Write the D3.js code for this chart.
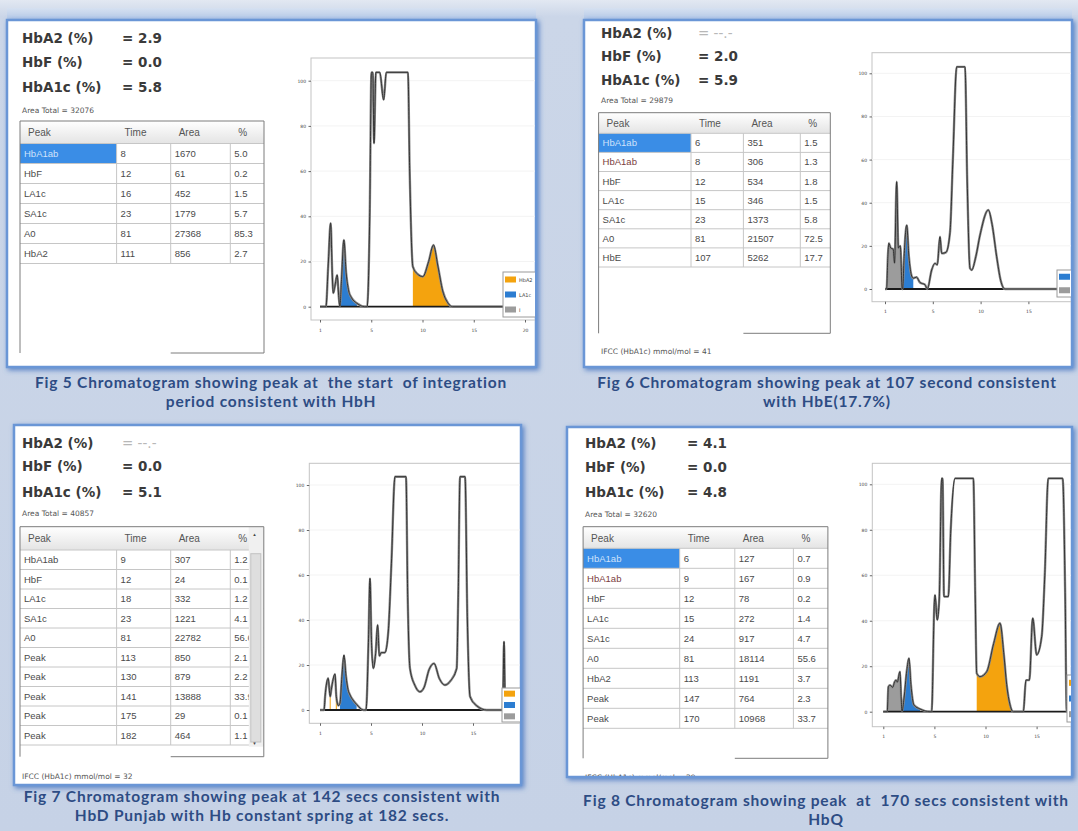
<!DOCTYPE html>
<html lang="en">
<head>
<meta charset="UTF-8">
<title>HPLC chromatograms</title>
<style>
  body { margin: 0; background: #c9d5e8; }
  svg { display: block; }
  .sum { font-family: "DejaVu Sans", sans-serif; font-weight: bold; font-size: 13.5px; fill: #3a3a3a; }
  .none { fill: #b8b8b8; font-weight: normal; }
  .th { font-family: "Liberation Sans", Arial, sans-serif; font-size: 10px; fill: #555; }
  .td { font-family: "Liberation Sans", Arial, sans-serif; font-size: 9.5px; fill: #4a4a4a; }
  .small { font-family: "DejaVu Sans", sans-serif; font-size: 7.5px; fill: #555; }
  .cap { font-family: Lato, "Open Sans", sans-serif; font-weight: bold; font-size: 15.5px; letter-spacing: 0.8px; fill: #2d4c84; white-space: pre; }
  .tick text { font-family: "DejaVu Sans", sans-serif; font-size: 4.5px; fill: #444; }
  .tick line { stroke: #666; }
  .lg { font-family: "DejaVu Sans", sans-serif; font-size: 5px; fill: #444; }
</style>
</head>
<body>
<script src="https://d3js.org/d3.v7.min.js"></script>
<svg id="fig"></svg>
<script>
// shared labels
var summaryLabels = ["HbA2 (%)", "HbF (%)", "HbA1c (%)"];
var tableHeader = ["Peak", "Time", "Area", "%"];
var xTickValues = [0, 5, 10, 15, 20];
var xTickLabels = ["1", "5", "10", "15", "20"];
var yTickValues = [0, 20, 40, 60, 80, 100];
var legendNames = {HbA2: "HbA2", LA1c: "LA1c", other: "I"};

// Fig 5
var fig5Summary = ["2.9", "0.0", "5.8"];
var fig5AreaTotal = "32076";
var fig5Peak = ["HbA1ab", "HbF", "LA1c", "SA1c", "A0", "HbA2"];
var fig5Time = ["8", "12", "16", "23", "81", "111"];
var fig5Area = ["1670", "61", "452", "1779", "27368", "856"];
var fig5Pct = ["5.0", "0.2", "1.5", "5.7", "85.3", "2.7"];
var fig5Trace = [[0,0],[0.58,0],[0.8,18],[1.04,37],[1.2,14],[1.29,6],[1.45,9],[1.68,14],[1.82,5],[1.94,0],
  [2.1,12],[2.33,29.5],[2.55,15],[2.8,7],[3.07,4],[3.6,1.5],[4.37,0],[4.6,0],[4.85,40],[5.02,103.7],
  [5.15,103.7],[5.27,72.3],[5.45,103.7],[5.83,103.7],[6.21,91.5],[6.47,103.7],[8.58,103.7],[8.75,60],
  [9.06,17.7],[9.5,14.5],[10.03,13.3],[10.6,20],[11.07,27.3],[11.5,18],[11.97,7],[12.5,1.5],[12.94,0],[22,0]];
var fig5Fills = [["LA1c", 1.94, 3.6], ["HbA2", 9.06, 12.94]];
var fig5Legend = ["HbA2", "LA1c", "other"];
var fig5Caption = ["Fig 5 Chromatogram showing peak at  the start  of integration", "period consistent with HbH"];

// Fig 6
var fig6Summary = [null, "2.0", "5.9"];
var fig6AreaTotal = "29879";
var fig6Peak = ["HbA1ab", "HbA1ab", "HbF", "LA1c", "SA1c", "A0", "HbE"];
var fig6Time = ["6", "8", "12", "15", "23", "81", "107"];
var fig6Area = ["351", "306", "534", "346", "1373", "21507", "5262"];
var fig6Pct = ["1.5", "1.3", "1.8", "1.5", "5.8", "72.5", "17.7"];
var fig6Ifcc = "41";
var fig6Trace = [[0,0],[0.17,0],[0.3,15],[0.4,21.2],[0.6,19],[0.85,18.5],[1.0,12],[1.22,49.7],[1.4,19],[1.6,20],
  [1.8,0],[1.85,0],[2.0,15],[2.27,29.6],[2.5,15],[2.79,6],[2.96,5],[3.3,5.5],[3.66,3],[4.18,2],[4.43,0],
  [4.88,8.8],[5.23,11.9],[5.47,11.2],[5.75,24.2],[5.93,16.5],[6.38,17],[6.8,26.2],[7.1,60],[7.5,103],
  [8.37,103],[8.6,50],[8.89,9.6],[9.07,8.8],[9.5,15],[9.94,25],[10.81,36.6],[11.2,30],[11.68,15],[12.1,4],
  [12.55,0],[21,0]];
var fig6Fills = [["other", 0.17, 1.8], ["LA1c", 1.85, 2.96]];
var fig6Legend = ["LA1c", "other"];
var fig6Caption = ["Fig 6 Chromatogram showing peak at 107 second consistent", "with HbE(17.7%)"];

// Fig 7
var fig7Summary = [null, "0.0", "5.1"];
var fig7AreaTotal = "40857";
var fig7Peak = ["HbA1ab", "HbF", "LA1c", "SA1c", "A0", "Peak", "Peak", "Peak", "Peak", "Peak"];
var fig7Time = ["9", "12", "18", "23", "81", "113", "130", "141", "175", "182"];
var fig7Area = ["307", "24", "332", "1221", "22782", "850", "879", "13888", "29", "464"];
var fig7Pct = ["1.2", "0.1", "1.2", "4.1", "56.6", "2.1", "2.2", "33.9", "0.1", "1.1"];
var fig7Ifcc = "32";
var fig7Trace = [[0,0],[0.4,0],[0.5,6],[0.8,14.1],[1.0,6],[1.1,8.9],[1.47,16],[1.6,6],[1.8,2],[1.96,3],
  [2.15,15],[2.35,24.4],[2.55,15],[2.75,9],[2.94,6.7],[3.3,4],[3.59,2.5],[4.25,0],[4.51,0],[4.75,30],
  [4.9,58.5],[5.05,30],[5.23,18.5],[5.45,25],[5.65,37.8],[5.82,24],[6.0,25.5],[6.37,25.5],[6.7,35.1],
  [7.0,65],[7.35,103.7],[8.43,103.7],[8.6,50],[8.82,18.5],[9.3,11],[9.8,8.1],[10.2,10],[10.7,18],
  [11.18,20.7],[11.7,14],[12.25,11.1],[12.8,13],[13.4,18.5],[13.55,50],[13.73,103.7],[14.22,103.7],
  [14.45,40],[14.71,6],[15.36,1.9],[16.34,0],[17.91,0],[18.04,30.4],[18.17,0],[21,0]];
var fig7Fills = [["LA1c", 1.96, 3.59]];
var fig7Marks = [[1.0, 6], [1.6, 6]];
var fig7Legend = ["HbA2", "LA1c", "other"];
var fig7Caption = ["Fig 7 Chromatogram showing peak at 142 secs consistent with", "HbD Punjab with Hb constant spring at 182 secs."];

// Fig 8
var fig8Summary = ["4.1", "0.0", "4.8"];
var fig8AreaTotal = "32620";
var fig8Peak = ["HbA1ab", "HbA1ab", "HbF", "LA1c", "SA1c", "A0", "HbA2", "Peak", "Peak"];
var fig8Time = ["6", "9", "12", "15", "24", "81", "113", "147", "170"];
var fig8Area = ["127", "167", "78", "272", "917", "18114", "1191", "764", "10968"];
var fig8Pct = ["0.7", "0.9", "0.2", "1.4", "4.7", "55.6", "3.7", "2.3", "33.7"];
var fig8Ifcc = "29";
var fig8Trace = [[0,0],[0.39,0],[0.5,11],[0.66,11.7],[0.92,10.7],[1.1,13],[1.24,13.9],[1.37,13],[1.63,17.6],
  [1.75,6],[1.83,0],[2.03,6],[2.3,18],[2.51,23.5],[2.7,12],[3.0,2.9],[3.59,1.2],[4.57,0],[4.73,0],[5.0,48],
  [5.06,51.3],[5.28,40.3],[5.48,50],[5.71,102.6],[5.8,102.6],[5.94,50.6],[6.36,50.6],[6.6,80],[7.02,102.6],
  [8.81,102.6],[9.0,50],[9.14,16.9],[9.46,15.4],[10.12,17.6],[10.8,30],[11.42,38.9],[11.8,25],[12.07,12],
  [12.4,3],[12.72,0],[13.7,0],[13.96,13.9],[14.29,13.9],[14.62,41.1],[15.01,25],[15.5,33.1],[15.8,60],
  [16.14,102.6],[17.55,102.6],[17.8,50],[17.94,0],[21,0]];
var fig8Fills = [["other", 0.39, 1.83], ["LA1c", 1.83, 3.59], ["HbA2", 9.14, 12.72]];
var fig8Legend = ["HbA2", "LA1c", "other"];
var fig8Caption = ["Fig 8 Chromatogram showing peak  at  170 secs consistent with", "HbQ"];

var datasets = [
  {summary: fig5Summary, total: fig5AreaTotal, cells: [fig5Peak, fig5Time, fig5Area, fig5Pct], ifcc: null,
   trace: fig5Trace, fills: fig5Fills, marks: [], legend: fig5Legend, caption: fig5Caption},
  {summary: fig6Summary, total: fig6AreaTotal, cells: [fig6Peak, fig6Time, fig6Area, fig6Pct], ifcc: fig6Ifcc,
   trace: fig6Trace, fills: fig6Fills, marks: [], legend: fig6Legend, caption: fig6Caption},
  {summary: fig7Summary, total: fig7AreaTotal, cells: [fig7Peak, fig7Time, fig7Area, fig7Pct], ifcc: fig7Ifcc,
   trace: fig7Trace, fills: fig7Fills, marks: fig7Marks, legend: fig7Legend, caption: fig7Caption},
  {summary: fig8Summary, total: fig8AreaTotal, cells: [fig8Peak, fig8Time, fig8Area, fig8Pct], ifcc: fig8Ifcc,
   trace: fig8Trace, fills: fig8Fills, marks: [], legend: fig8Legend, caption: fig8Caption}
];

// layout of the four screenshots
var layout = [
  {box: [7, 20, 536, 367], band: true, labelX: 22, valueX: 122, sumY: [43, 67, 92], totalY: 113,
   table: {cols: [20, 116.6, 170.7, 230.3, 264], y: 121, headH: 22.5, rowH: 20, bottom: 353, highlight: true, scroll: false},
   ifccY: null,
   chart: {frame: [311, 58, 560, 320], tx: [320, 525], vy: [306.7, 80.7], legend: [503, 272, 40, 45]},
   capX: 271, capY: [388, 407]},
  {box: [584, 20, 1072, 367], band: true, labelX: 601, valueX: 698, sumY: [38, 61, 85], totalY: 103,
   table: {cols: [598.6, 691, 743.4, 800.3, 830.3], y: 112.7, headH: 20.6, rowH: 19.1, bottom: 333.3, highlight: true, scroll: false},
   ifccY: 354,
   chart: {frame: [872, 52.7, 1100, 301.7], tx: [885, 1076.2], vy: [289, 73.3], legend: [1057, 270, 30, 27]},
   capX: 827, capY: [388, 407]},
  {box: [14, 425, 521, 785], band: false, labelX: 22, valueX: 122, sumY: [448, 471, 497], totalY: 516,
   table: {cols: [20, 116.6, 170.7, 230.3, 263.8], y: 526.7, headH: 23.3, rowH: 19.5, bottom: 756.7, highlight: false, scroll: true},
   ifccY: 779,
   chart: {frame: [309.3, 463.3, 560, 723.3], tx: [320, 524], vy: [710, 485], legend: [502, 688, 30, 34]},
   capX: 262, capY: [802, 821]},
  {box: [567, 427, 1072, 777], band: false, labelX: 585, valueX: 687, sumY: [448, 472, 497], totalY: 517,
   table: {cols: [583.1, 679.7, 734.8, 793.4, 827.9], y: 526.7, headH: 21.6, rowH: 20, bottom: 758.3, highlight: true, scroll: false},
   ifccY: 780,
   chart: {frame: [872.3, 463.3, 1100, 726.7], tx: [883.3, 1087.7], vy: [711.7, 484.3], legend: [1067, 675, 30, 47]},
   capX: 826, capY: [806, 825]}
];

var colorOf = d3.scaleOrdinal().domain(["HbA2", "LA1c", "other"]).range(["#f4a30e", "#2c7dd1", "#9c9c9c"]);

var W = 1078, H = 831;
var svg = d3.select("#fig").attr("width", W).attr("height", H);
var defs = svg.append("defs");

var bg = defs.append("linearGradient").attr("id", "bg").attr("x1", 0).attr("y1", 0).attr("x2", 0).attr("y2", 1);
bg.append("stop").attr("offset", "0%").attr("stop-color", "#e2e8f2");
bg.append("stop").attr("offset", "2%").attr("stop-color", "#cbd6e8");
bg.append("stop").attr("offset", "100%").attr("stop-color", "#c6d2e6");
svg.append("rect").attr("width", W).attr("height", H).attr("fill", "url(#bg)");

var band = defs.append("linearGradient").attr("id", "band").attr("x1", 0).attr("y1", 0).attr("x2", 0).attr("y2", 1);
band.append("stop").attr("offset", "0%").attr("stop-color", "#d6e1f1");
band.append("stop").attr("offset", "100%").attr("stop-color", "#b3c7e6");

var head = defs.append("linearGradient").attr("id", "head").attr("x1", 0).attr("y1", 0).attr("x2", 0).attr("y2", 1);
head.append("stop").attr("offset", "0%").attr("stop-color", "#ffffff");
head.append("stop").attr("offset", "100%").attr("stop-color", "#e4e4e4");

var glow = defs.append("filter").attr("id", "glow").attr("x", "-5%").attr("y", "-5%").attr("width", "110%").attr("height", "112%");
glow.append("feDropShadow").attr("dx", 2).attr("dy", 2).attr("stdDeviation", 2.5)
    .attr("flood-color", "#3f6fbf").attr("flood-opacity", 0.8);

datasets.forEach(function(d, i) {
    var L = layout[i], b = L.box;

    if (L.band) {
        svg.append("rect").attr("x", b[0]).attr("y", b[1] - 12).attr("width", b[2] - b[0]).attr("height", 12)
            .attr("fill", "url(#band)");
    }
    svg.append("rect").attr("x", b[0]).attr("y", b[1]).attr("width", b[2] - b[0]).attr("height", b[3] - b[1])
        .attr("fill", "#fff").attr("stroke", "#6a96d6").attr("stroke-width", 2.5).attr("filter", "url(#glow)");

    defs.append("clipPath").attr("id", "clip" + i).append("rect")
        .attr("x", b[0] + 1).attr("y", b[1] + 1).attr("width", b[2] - b[0] - 2).attr("height", b[3] - b[1] - 2);
    var g = svg.append("g").attr("clip-path", "url(#clip" + i + ")");

    // summary values
    summaryLabels.forEach(function(lab, k) {
        g.append("text").attr("class", "sum").attr("x", L.labelX).attr("y", L.sumY[k]).text(lab);
        var v = d.summary[k];
        g.append("text").attr("class", v ? "sum" : "sum none").attr("x", L.valueX).attr("y", L.sumY[k])
            .text(v ? "= " + v : "= --.-");
    });
    g.append("text").attr("class", "small").attr("x", L.labelX).attr("y", L.totalY).text("Area Total = " + d.total);

    // peak table
    var T = L.table, c = T.cols, x0 = c[0], x1 = c[c.length - 1];
    var n = d.cells[0].length;
    var rowsBottom = T.y + T.headH + n * T.rowH;
    g.append("rect").attr("x", x0).attr("y", T.y).attr("width", x1 - x0).attr("height", T.headH).attr("fill", "url(#head)");
    tableHeader.forEach(function(h, k) {
        g.append("text").attr("class", "th").attr("x", c[k] + 8).attr("y", T.y + T.headH / 2 + 4).text(h);
    });
    if (T.highlight) {
        g.append("rect").attr("x", x0).attr("y", T.y + T.headH).attr("width", c[1] - x0).attr("height", T.rowH)
            .attr("fill", "#3a8de6");
    }
    for (var r = 0; r < n; r++) {
        var ry = T.y + T.headH + r * T.rowH;
        for (var k = 0; k < 4; k++) {
            var t = g.append("text").attr("class", "td").attr("x", c[k] + 4).attr("y", ry + T.rowH / 2 + 3.5)
                .text(d.cells[k][r]);
            if (k === 0 && r === 0 && T.highlight) t.style("fill", "#cfe2fb");
            if (k === 0 && r === 1 && T.highlight && d.cells[0][1] === d.cells[0][0]) t.style("fill", "#7b4040");
        }
        g.append("line").attr("x1", x0).attr("x2", x1).attr("y1", ry + T.rowH).attr("y2", ry + T.rowH)
            .attr("stroke", "#c6c6c6");
    }
    g.append("line").attr("x1", x0).attr("x2", x1).attr("y1", T.y + T.headH).attr("y2", T.y + T.headH).attr("stroke", "#c6c6c6");
    c.slice(1, -1).forEach(function(cx) {
        g.append("line").attr("x1", cx).attr("x2", cx).attr("y1", T.y + T.headH).attr("y2", rowsBottom).attr("stroke", "#c6c6c6");
    });
    if (T.scroll) {
        var sx = x1 - 15;
        g.append("rect").attr("x", sx).attr("y", T.y).attr("width", 15).attr("height", T.bottom - T.y - 10).attr("fill", "#f0f0f0");
        g.append("rect").attr("x", sx + 2).attr("y", T.y + 27).attr("width", 10).attr("height", rowsBottom - T.y - 30)
            .attr("fill", "#dedede").attr("stroke", "#c2c2c2");
        g.append("text").attr("class", "lg").attr("x", sx + 4.5).attr("y", T.y + 9).text("\u25B4");
        g.append("text").attr("class", "lg").attr("x", sx + 4.5).attr("y", T.bottom - 12).text("\u25BE");
    }
    var tb = d3.path();
    tb.moveTo(x0, T.bottom); tb.lineTo(x0, T.y); tb.lineTo(x1, T.y); tb.lineTo(x1, T.bottom); tb.lineTo(c[2], T.bottom);
    g.append("path").attr("d", tb.toString()).attr("fill", "none").attr("stroke", "#7c7c7c");

    if (d.ifcc) {
        g.append("text").attr("class", "small").attr("x", L.labelX).attr("y", L.ifccY).text("IFCC (HbA1c) mmol/mol = " + d.ifcc);
    }

    // chromatogram
    var C = L.chart, f = C.frame;
    var x = d3.scaleLinear().domain([0, 20]).range(C.tx);
    var y = d3.scaleLinear().domain([0, 100]).range(C.vy);

    g.append("rect").attr("x", f[0]).attr("y", f[1]).attr("width", f[2] - f[0]).attr("height", f[3] - f[1])
        .attr("fill", "none").attr("stroke", "#c4c4c4");
    g.append("g").selectAll("line").data(yTickValues.slice(1)).enter().append("line")
        .attr("x1", f[0]).attr("x2", f[2]).attr("y1", y).attr("y2", y).attr("stroke", "#f3f3f3");

    var ya = g.append("g").attr("transform", "translate(" + f[0] + ",0)")
        .call(d3.axisLeft(y).tickValues(yTickValues).tickSize(2.5).tickPadding(2.5));
    ya.select(".domain").remove();
    var xa = g.append("g").attr("transform", "translate(0," + f[3] + ")")
        .call(d3.axisBottom(x).tickValues(xTickValues).tickFormat(function(v, k) { return xTickLabels[k]; })
            .tickSize(2.5).tickPadding(6));
    xa.select(".domain").remove();
    // drop tick labels that fall outside the visible window
    xa.selectAll(".tick").filter(function(v) { return x(v) > b[2] - 4; }).remove();

    d.fills.forEach(function(fl) {
        var pts = d.trace.filter(function(p) { return p[0] >= fl[1] && p[0] <= fl[2]; });
        g.append("path").datum(pts)
            .attr("d", d3.area().x(function(p) { return x(p[0]); }).y0(y(0)).y1(function(p) { return y(p[1]); })
                .curve(d3.curveMonotoneX))
            .attr("fill", colorOf(fl[0]));
    });
    d.marks.forEach(function(m) {
        g.append("line").attr("x1", x(m[0])).attr("x2", x(m[0])).attr("y1", y(0)).attr("y2", y(m[1]))
            .attr("stroke", colorOf("HbA2")).attr("stroke-width", 1);
    });

    var line = d3.line().x(function(p) { return x(p[0]); }).y(function(p) { return y(p[1]); }).curve(d3.curveMonotoneX);
    g.append("line").attr("x1", x(0)).attr("x2", f[2]).attr("y1", y(0)).attr("y2", y(0))
        .attr("stroke", "#1a1a1a").attr("stroke-width", 1.8);
    g.append("path").datum(d.trace).attr("d", line).attr("fill", "none").attr("stroke", "#8c8c8c").attr("stroke-width", 2.4);
    g.append("path").datum(d.trace).attr("d", line).attr("fill", "none").attr("stroke", "#2a2a2a").attr("stroke-width", 0.9);

    // legend box, cut by the screenshot edge like the original
    var lg = C.legend, step = lg[3] / d.legend.length;
    g.append("rect").attr("x", lg[0]).attr("y", lg[1]).attr("width", lg[2]).attr("height", lg[3])
        .attr("fill", "#fff").attr("stroke", "#9a9a9a");
    d.legend.forEach(function(key, k) {
        var yy = lg[1] + step * k + step / 2;
        g.append("rect").attr("x", lg[0] + 2).attr("y", yy - 3).attr("width", 11).attr("height", 6).attr("fill", colorOf(key));
        if (lg[0] + 30 < b[2]) {
            g.append("text").attr("class", "lg").attr("x", lg[0] + 16).attr("y", yy + 2).text(legendNames[key]);
        }
    });

    // caption under the screenshot
    d.caption.forEach(function(line, k) {
        svg.append("text").attr("class", "cap").attr("x", L.capX).attr("y", L.capY[k]).attr("text-anchor", "middle").text(line);
    });
});
</script>
</body>
</html>
